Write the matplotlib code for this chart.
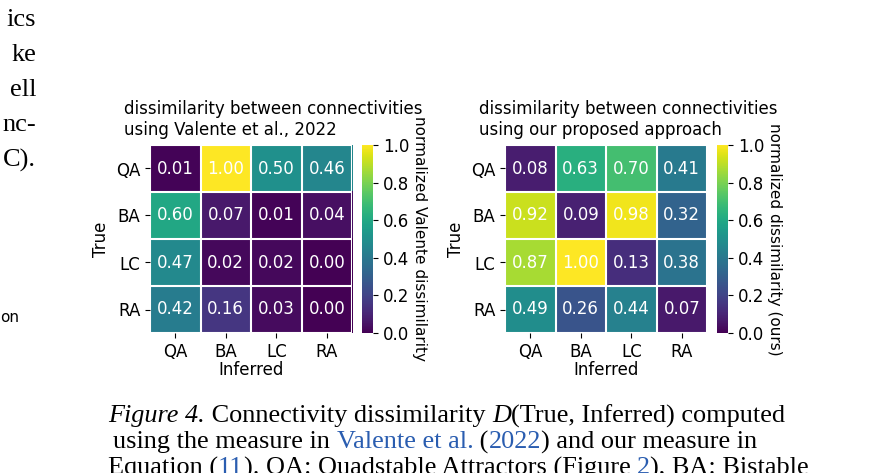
import matplotlib
matplotlib.use("Agg")
import matplotlib.pyplot as plt
import numpy as np

labels = ["QA", "BA", "LC", "RA"]
valente = [[0.01, 1.00, 0.50, 0.46],
           [0.60, 0.07, 0.01, 0.04],
           [0.47, 0.02, 0.02, 0.00],
           [0.42, 0.16, 0.03, 0.00]]
ours = [[0.08, 0.63, 0.70, 0.41],
        [0.92, 0.09, 0.98, 0.32],
        [0.87, 1.00, 0.13, 0.38],
        [0.49, 0.26, 0.44, 0.07]]
cbar_ticks = [0.0, 0.2, 0.4, 0.6, 0.8, 1.0]

W, H = 872, 473
fig = plt.figure(figsize=(W/100, H/100), dpi=100)

def px(x, y, w, h):
    return [x/W, 1-(y+h)/H, w/W, h/H]

def heat(x0, title, data, cblabel):
    ax = fig.add_axes(px(x0, 145, 202, 188))
    arr = np.array(data)
    im = ax.imshow(arr, cmap="viridis", vmin=0, vmax=1, aspect="auto")
    for i in range(4):
        for j in range(4):
            ax.text(j, i, f"{arr[i,j]:.2f}", ha="center", va="center", color="white", fontsize=12)
    ax.set_xticks(np.arange(4), labels, fontsize=12)
    ax.set_yticks(np.arange(4), labels, fontsize=12)
    ax.set_xticks(np.arange(-.5, 4, 1), minor=True)
    ax.set_yticks(np.arange(-.5, 4, 1), minor=True)
    ax.grid(which="minor", color="white", linewidth=1.5)
    ax.tick_params(which="minor", length=0)
    for s in ax.spines.values():
        s.set_visible(False)
    ax.set_xlabel("Inferred", fontsize=12, labelpad=0)
    ax.set_ylabel("True", fontsize=12)
    ax.set_title(title, fontsize=12, loc="left", x=-0.13, ha="left", linespacing=1.25, pad=7)
    cax = fig.add_axes(px(x0+212, 145, 11, 188))
    cb = fig.colorbar(im, cax=cax, ticks=cbar_ticks)
    cb.outline.set_visible(False)
    cb.ax.tick_params(labelsize=12)
    cb.set_label(cblabel, rotation=-90, fontsize=11, labelpad=13)

heat(150, "dissimilarity between connectivities\nusing Valente et al., 2022", valente,
     "normalized Valente dissimilarity")
heat(505, "dissimilarity between connectivities\nusing our proposed approach", ours,
     "normalized dissimilarity (ours)")

serif = "Liberation Serif"
for y, t in [(20, "ics"), (55, "ke"), (90, "ell"), (125, "nc-"), (160, "C).")]:
    fig.text(36/W, 1-y/H, t, fontsize=19, family=serif, va="center", ha="right")
fig.text(0/W, 1-318/H, "on", fontsize=11, va="center")

fig.canvas.draw()
r = fig.canvas.get_renderer()
def line(x, y, pieces):
    for t, kw in pieces:
        tt = fig.text(x/W, 1-y/H, t, fontsize=18.9, family=serif, va="center", **kw)
        bb = tt.get_window_extent(r)
        x += bb.width
blue = dict(color="#2a5db0")
line(108, 416, [("Figure 4.", dict(style="italic")),
                (" Connectivity dissimilarity ", {}),
                ("D", dict(style="italic")),
                ("(True, Inferred) computed", {})])
line(113, 442, [("using the measure in ", {}), ("Valente et al.", blue), (" (", {}),
                ("2022", blue), (") and our measure in", {})])
line(108, 468, [("Equation (", {}), ("11", blue), ("). QA: Quadstable Attractors (Figure ", {}),
                ("2", blue), ("), BA: Bistable", {})])

fig.savefig("out.png", dpi=100)
